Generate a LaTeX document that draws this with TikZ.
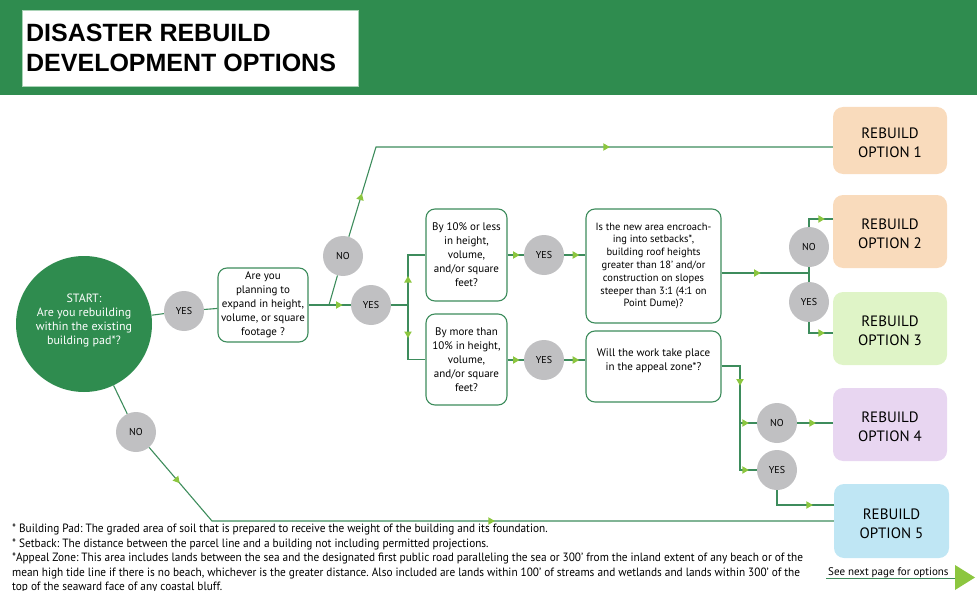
\documentclass[tikz,border=0pt]{standalone}
\usepackage{fontspec}
\setmainfont{PT Sans}
\newfontfamily\titlefont{Liberation Sans}
\newfontfamily\fnfont[FakeStretch=0.94]{PT Sans}
\usetikzlibrary{decorations.markings,calc}
\frenchspacing
\definecolor{bannergreen}{HTML}{2F8C4F}
\definecolor{linegreen}{HTML}{3D8C5C}
\definecolor{tipgreen}{HTML}{8CC63F}
\definecolor{circgray}{HTML}{C0C0C2}
\definecolor{peach}{HTML}{F9DBBC}
\definecolor{lgreen}{HTML}{DFF4C7}
\definecolor{lilac}{HTML}{E8D6F1}
\definecolor{lblue}{HTML}{BFE6F4}
\definecolor{titleline}{HTML}{A9D3B6}
\begin{document}
\begin{tikzpicture}[x=1pt,y=-1pt,
 conn/.style={draw=linegreen, line width=1.1pt},
 qbox/.style={draw=linegreen, line width=1.1pt, rounded corners=9pt, fill=white, align=center, inner sep=0pt, font=\fontsize{11}{14}\selectfont},
 optbox/.style={rounded corners=10pt, align=center, inner sep=0pt, minimum width=114pt, font=\fontsize{15}{19}\selectfont},
 dot/.style={circle, fill=circgray, minimum size=40pt, inner sep=0pt, font=\fontsize{10}{12}\selectfont},
 tipat/.style={postaction={decorate,decoration={markings,mark=at position #1 with {\fill[tipgreen] (3pt,0pt) -- (-3.5pt,3.8pt) -- (-3.5pt,-3.8pt) -- cycle;}}}},
]
\useasboundingbox (0,0) rectangle (977,591);
\fill[bannergreen] (0,0) rectangle (977,95);
\node[fill=white, draw=titleline, line width=0.6pt, anchor=north west, minimum width=336pt, minimum height=76pt, inner sep=0pt] (titlebox) at (22,10) {};
\node[anchor=north west, align=left, inner sep=0pt, font=\titlefont\bfseries\fontsize{25}{29.5}\selectfont] (title) at (26,24) {DISASTER REBUILD\\DEVELOPMENT OPTIONS};

\node[circle, fill=bannergreen, minimum size=136pt, inner sep=0pt, text=white, align=center, font=\fontsize{12}{14}\selectfont] (start) at (84,324) {START:\\Are you rebuilding\\within the existing\\building pad*?\\[-4pt]\mbox{}};
\node[dot] (yes1) at (184,311) {YES};
\node[qbox, minimum width=90pt, minimum height=74pt] (q1) at (263,305) {Are you\\planning to\\expand in height,\\volume, or square\\footage ?};
\node[dot] (no2) at (343,256) {NO};
\node[dot] (yes2) at (371,305) {YES};
\node[qbox, minimum width=81pt, minimum height=92pt] (q2a) at (466.5,255) {By 10\% or less\\in height,\\volume,\\and/or square\\feet?};
\node[qbox, minimum width=81pt, minimum height=91pt] (q2b) at (466.5,359.5) {By more than\\10\% in height,\\volume,\\and/or square\\feet?};
\node[dot] (yes3) at (544,255) {YES};
\node[dot] (yes4) at (544,360) {YES};
\node[qbox, minimum width=135pt, minimum height=114pt, font=\fontsize{10.5}{12.8}\selectfont] (q3a) at (653.5,266) {Is the new area encroach-\\ing into setbacks*,\\building roof heights\\greater than 18’ and/or\\construction on slopes\\steeper than 3:1 (4:1 on\\Point Dume)?};
\node[qbox, minimum width=135pt, minimum height=71pt, font=\fontsize{11}{13.5}\selectfont] (q3b) at (653.5,366.5) {Will the work take place\\in the appeal zone*?\\\mbox{}};
\node[dot] (no5) at (809,247) {NO};
\node[dot] (yes5) at (809,302) {YES};
\node[dot] (no6) at (777,423) {NO};
\node[dot] (yes6) at (777,470) {YES};
\node[dot] (nostart) at (136,432) {NO};

\node[optbox, fill=peach, minimum height=67pt] (opt1) at (890,140.5) {\\[-3pt]REBUILD\\OPTION 1};
\node[optbox, fill=peach, minimum height=73pt] (opt2) at (890,231.5) {\\[-3pt]REBUILD\\OPTION 2};
\node[optbox, fill=lgreen, minimum height=73pt] (opt3) at (890,328.5) {\\[-3pt]REBUILD\\OPTION 3};
\node[optbox, fill=lilac, minimum height=73pt] (opt4) at (890,424.5) {\\[-3pt]REBUILD\\OPTION 4};
\node[optbox, fill=lblue, minimum height=74pt, minimum width=115pt] (opt5) at (891.5,521) {\\[-3pt]REBUILD\\OPTION 5};

\coordinate (J1) at (329,305);
\coordinate (sp1) at (408,305);
\coordinate (c1) at (376,147);
\coordinate (J2) at (809,273);
\coordinate (c2) at (809,219);
\coordinate (c3) at (809,333);
\coordinate (c4) at (740,366);
\coordinate (c5) at (740,423);
\coordinate (c6) at (740,470);
\coordinate (c7) at (777,505);
\coordinate (c8) at (212,521);

\draw[conn] (start) -- (yes1);
\draw[conn] (yes1) -- (q1);
\draw[conn, tipat=31pt] (q1.east) -- (yes2);
\draw[conn] (J1) -- (no2);
\draw[conn, tipat=42pt, tipat=-226pt] (no2) -- (c1) -- (c1 -| opt1.west);
\draw[conn] (yes2) -- (sp1);
\draw[conn, tipat=26pt] (sp1) |- (q2a.west);
\draw[conn, tipat=30pt] (sp1) |- (q2b.west);
\draw[conn, tipat=9pt] (q2a.east) -- (yes3);
\draw[conn, tipat=12pt] (yes3) -- (yes3 -| q3a.west);
\draw[conn, tipat=9pt] (yes4 -| q2b.east) -- (yes4);
\draw[conn, tipat=12pt] (yes4) -- (yes4 -| q3b.west);
\draw[conn, tipat=36pt] (q3a.east |- J2) -- (J2);
\draw[conn] (J2) -- (no5);
\draw[conn] (J2) -- (yes5);
\draw[conn, tipat=-11pt] (no5) -- (c2) -- (c2 -| opt2.west);
\draw[conn, tipat=-11pt] (yes5) -- (c3) -- (c3 -| opt3.west);
\draw[conn, tipat=35pt, tipat=-11pt] (q3b.east |- c4) -- (c4) -- (c6) -- (yes6);
\draw[conn, tipat=-11pt] (c5) -- (no6);
\draw[conn, tipat=-20pt] (no6) -- (no6 -| opt4.west);
\draw[conn, tipat=-24pt] (yes6) -- (c7) -- (c7 -| opt5.west);
\draw[conn] (start) -- (nostart);
\draw[conn, tipat=44pt, tipat=-342pt] (nostart) -- (c8) -- (c8 -| opt5.west);

\node[anchor=north west, align=left, inner sep=0pt, font=\fnfont\fontsize{12}{14.5}\selectfont] (fn) at (12,524) {* Building Pad: The graded area of soil that is prepared to receive the weight of the building and its foundation.\\* Setback: The distance between the parcel line and a building not including permitted projections.\\*Appeal Zone: This area includes lands between the sea and the designated first public road paralleling the sea or 300’ from the inland extent of any beach or of the\\mean high tide line if there is no beach, whichever is the greater distance. Also included are lands within 100’ of streams and wetlands and lands within 300’ of the\\top of the seaward face of any coastal bluff.};

\node[anchor=base west, inner sep=0pt, font=\fontsize{11}{13}\selectfont] (seenext) at (828,575) {See next page for options};
\draw[linegreen, line width=1pt] (826,578) -- (955,578);
\fill[tipgreen] (955,565) -- (975,577.5) -- (955,590) -- cycle;
\end{tikzpicture}
\end{document}
